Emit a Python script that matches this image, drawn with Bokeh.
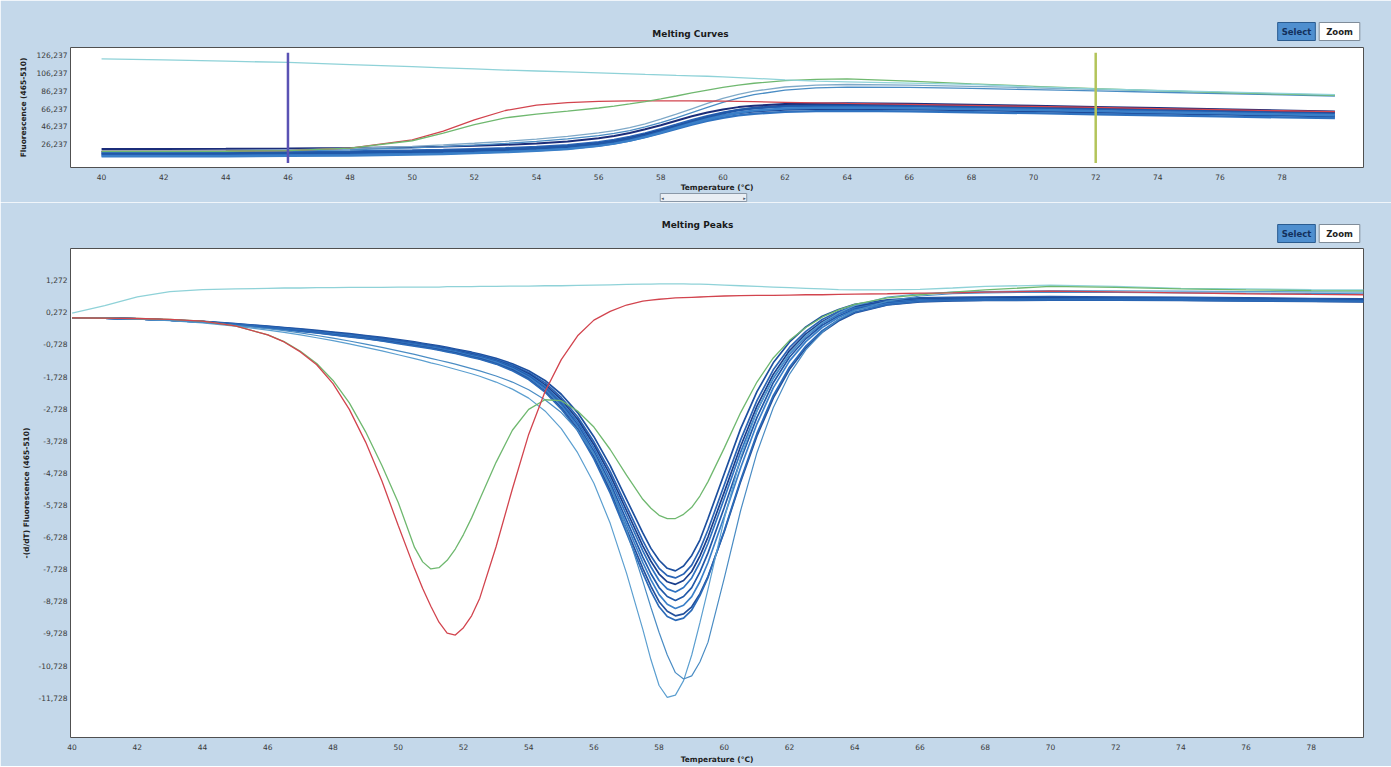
from bokeh.plotting import figure
from bokeh.models import Range1d, FixedTicker, Label
from bokeh.layouts import column
from bokeh.embed import file_html
from bokeh.resources import INLINE

BG = "#c4d8ea"
FONT = "DejaVu Sans"

# ---------------- Melting Curves (top) ----------------
TT = [40, 42, 44, 46, 48, 50, 51, 52, 53, 54, 55, 56, 56.5, 57, 57.5, 58, 58.5, 59, 59.5,
      60, 60.5, 61, 62, 63, 64, 66, 68, 70, 72, 74, 76, 78, 79.7]

top_c1 = [20.8, 20.8, 20.9, 21.3, 21.8, 22.8, 23.4, 24.4, 25.5, 27.0, 29.1, 32.7, 35.3, 38.8, 42.9, 47.4, 52.5,
          57.5, 61.7, 65.2, 67.8, 69.3, 71.4, 72.0, 72.2, 71.5, 70.5, 69.3, 68.0, 66.7, 65.3, 64.0, 63.0]
top_c2 = [17.0, 17.0, 17.1, 17.5, 18.0, 19.0, 19.6, 20.6, 21.6, 23.1, 25.1, 28.5, 31.0, 34.3, 38.3, 42.9, 48.0,
          53.2, 57.7, 61.6, 64.5, 66.4, 68.4, 69.1, 69.3, 68.6, 67.6, 66.5, 65.3, 64.0, 62.7, 61.5, 60.5]
top_c3 = [15.0, 15.0, 15.1, 15.5, 16.0, 16.9, 17.5, 18.5, 19.5, 21.0, 23.0, 26.6, 29.2, 32.7, 36.8, 41.3, 46.2,
          50.9, 55.0, 58.5, 61.2, 63.1, 65.2, 65.9, 66.1, 65.4, 64.4, 63.3, 62.1, 60.9, 59.7, 58.5, 57.6]
top_c4 = [13.5, 13.5, 13.6, 14.0, 14.5, 15.4, 16.0, 16.9, 17.9, 19.3, 21.2, 24.6, 27.0, 30.3, 34.2, 38.7, 43.5,
          48.2, 52.3, 55.8, 58.5, 60.4, 62.5, 63.3, 63.6, 63.0, 62.0, 61.0, 59.8, 58.6, 57.4, 56.3, 55.5]
top_c5 = [16.0, 16.0, 16.1, 16.5, 16.9, 17.8, 18.4, 19.3, 20.3, 21.7, 23.6, 26.8, 29.1, 32.2, 36.1, 40.7, 45.9,
          51.4, 56.4, 60.9, 64.4, 66.8, 69.5, 70.5, 70.8, 70.2, 69.2, 68.0, 66.8, 65.5, 64.2, 63.0, 62.0]
top_c6 = [12.5, 12.5, 12.6, 13.0, 13.5, 14.5, 15.1, 16.1, 17.2, 18.7, 20.8, 24.3, 26.8, 30.2, 34.4, 39.2, 44.4,
          49.6, 54.2, 58.3, 61.5, 63.8, 66.2, 67.0, 67.2, 66.6, 65.6, 64.5, 63.3, 62.0, 60.8, 59.6, 58.7]
top_oa = [18.5, 18.6, 19.0, 19.8, 21.3, 23.7, 25.3, 27.2, 29.3, 31.8, 34.9, 38.8, 41.4, 44.8, 49.1, 54.2, 59.8,
          65.9, 72.0, 77.6, 82.2, 85.8, 90.4, 92.5, 93.2, 92.5, 91.0, 89.5, 87.8, 86.0, 84.3, 82.6, 81.2]
top_ob = [17.5, 17.6, 17.9, 18.6, 19.9, 22.0, 23.4, 25.1, 27.0, 29.3, 32.2, 35.8, 38.3, 41.5, 45.6, 50.4, 55.8,
          61.7, 67.5, 73.1, 77.9, 81.8, 86.9, 89.5, 90.3, 90.0, 88.8, 87.5, 86.0, 84.5, 83.0, 81.5, 80.3]
top_red = [18.0, 18.0, 18.2, 19.0, 21.8, 31.0, 40.8, 53.5, 64.0, 70.0, 72.8, 74.2, 74.6, 74.8, 74.9, 74.9, 74.9,
           74.8, 74.7, 74.5, 74.2, 73.9, 73.2, 72.5, 71.9, 70.9, 69.8, 68.6, 67.4, 66.1, 64.9, 63.7, 62.7]
top_green = [18.0, 18.0, 18.2, 19.0, 21.8, 30.0, 38.5, 48.0, 55.8, 60.0, 63.2, 66.8, 69.0, 71.4, 74.0, 77.0, 80.3,
             83.7, 87.0, 90.0, 92.6, 94.6, 97.5, 99.0, 99.5, 97.0, 94.0, 91.2, 88.6, 86.3, 84.2, 82.4, 80.9]
top_cyan = [122.0, 120.8, 119.4, 118.0, 115.6, 113.2, 112.0, 110.7, 109.4, 108.4, 107.3, 106.3, 105.7, 105.2,
            104.6, 104.1, 103.5, 103.0, 102.5, 101.8, 101.0, 100.2, 98.4, 97.0, 96.2, 94.7, 93.3, 90.6, 88.3,
            86.5, 84.9, 83.2, 81.8]

CURSOR_T = [46, 72]
CURSOR_Y0 = [129, 129]
CURSOR_Y1 = [5, 5]
CURSOR_COLORS = ["#5a52b4", "#b3c45a"]

TOP_XTICKS = [40, 42, 44, 46, 48, 50, 52, 54, 56, 58, 60, 62, 64, 66, 68, 70, 72, 74, 76, 78]
TOP_YTICKS = [26.237, 46.237, 66.237, 86.237, 106.237, 126.237]
TOP_YLABELS = ["26,237", "46,237", "66,237", "86,237", "106,237", "126,237"]

# ---------------- Melting Peaks (bottom) ----------------
TB = [40, 41, 42, 43, 44, 45, 46, 46.5, 47, 47.5, 48, 48.5, 49, 49.5, 50, 50.5, 50.75, 51, 51.25, 51.5, 51.75,
      52, 52.25, 52.5, 53, 53.5, 54, 54.5, 55, 55.5, 56, 56.5, 57, 57.5, 57.75, 58, 58.25, 58.5, 58.75, 59,
      59.25, 59.5, 60, 60.5, 61, 61.5, 62, 62.5, 63, 63.5, 64, 65, 66, 67, 68, 70, 72, 74, 76, 78, 79.6]

pk_c1 = [0.10, 0.09, 0.07, 0.03, -0.01, -0.08, -0.16, -0.20, -0.24, -0.29, -0.34, -0.39, -0.45, -0.51, -0.58,
         -0.65, -0.69, -0.73, -0.77, -0.82, -0.87, -0.92, -0.97, -1.03, -1.16, -1.33,
         -1.55, -1.85, -2.28, -2.85, -3.60, -4.50, -5.55, -6.60, -7.08, -7.45, -7.70, -7.78, -7.63, -7.30,
         -6.82, -6.15, -4.75, -3.35, -2.20, -1.30, -0.65, -0.18, 0.15, 0.36, 0.52,
         0.66, 0.72, 0.74, 0.75, 0.76, 0.75, 0.74, 0.72, 0.70, 0.69]
pk_c2 = [0.10, 0.09, 0.07, 0.03, -0.02, -0.09, -0.17, -0.21, -0.26, -0.31, -0.36, -0.41, -0.47, -0.54, -0.61,
         -0.68, -0.72, -0.76, -0.80, -0.85, -0.90, -0.95, -1.00, -1.06, -1.20, -1.37,
         -1.60, -1.92, -2.38, -2.98, -3.76, -4.68, -5.76, -6.84, -7.32, -7.70, -7.93, -8.00, -7.88, -7.60,
         -7.12, -6.50, -5.10, -3.70, -2.48, -1.52, -0.82, -0.32, 0.05, 0.30, 0.47,
         0.63, 0.70, 0.72, 0.73, 0.74, 0.73, 0.72, 0.70, 0.68, 0.67]
pk_c3 = [0.10, 0.09, 0.07, 0.03, -0.02, -0.10, -0.18, -0.22, -0.27, -0.32, -0.37, -0.42, -0.48, -0.55, -0.62,
         -0.70, -0.74, -0.78, -0.82, -0.87, -0.92, -0.97, -1.03, -1.09, -1.23, -1.41,
         -1.64, -1.98, -2.45, -3.06, -3.85, -4.80, -5.90, -7.00, -7.48, -7.88, -8.12, -8.20, -8.08, -7.80,
         -7.32, -6.72, -5.32, -3.90, -2.65, -1.66, -0.92, -0.40, -0.02, 0.25, 0.44,
         0.61, 0.68, 0.70, 0.71, 0.72, 0.71, 0.70, 0.68, 0.66, 0.65]
pk_c4 = [0.10, 0.09, 0.07, 0.03, -0.02, -0.10, -0.18, -0.23, -0.28, -0.33, -0.38, -0.43, -0.49, -0.56, -0.63,
         -0.71, -0.75, -0.79, -0.83, -0.88, -0.93, -0.98, -1.04, -1.10, -1.24, -1.42,
         -1.68, -2.03, -2.52, -3.14, -3.95, -4.92, -6.04, -7.16, -7.66, -8.08, -8.34, -8.44, -8.30, -8.00,
         -7.52, -6.92, -5.52, -4.08, -2.80, -1.78, -1.02, -0.47, -0.07, 0.21, 0.41,
         0.59, 0.66, 0.68, 0.69, 0.70, 0.70, 0.69, 0.67, 0.65, 0.64]
pk_c5 = [0.10, 0.09, 0.07, 0.03, -0.03, -0.11, -0.19, -0.24, -0.29, -0.34, -0.39, -0.45, -0.51, -0.58, -0.65,
         -0.73, -0.77, -0.81, -0.85, -0.90, -0.95, -1.00, -1.06, -1.12, -1.26, -1.45,
         -1.72, -2.08, -2.58, -3.22, -4.05, -5.05, -6.20, -7.35, -7.87, -8.30, -8.58, -8.70, -8.58, -8.30,
         -7.82, -7.22, -5.80, -4.32, -3.00, -1.92, -1.12, -0.55, -0.13, 0.16, 0.37,
         0.56, 0.64, 0.66, 0.67, 0.68, 0.68, 0.67, 0.65, 0.63, 0.62]
pk_c6 = [0.10, 0.09, 0.07, 0.03, -0.03, -0.11, -0.20, -0.25, -0.30, -0.35, -0.40, -0.46, -0.52, -0.59, -0.66,
         -0.74, -0.78, -0.82, -0.86, -0.91, -0.96, -1.02, -1.08, -1.14, -1.28, -1.48,
         -1.75, -2.12, -2.63, -3.28, -4.13, -5.15, -6.33, -7.52, -8.06, -8.52, -8.82, -8.95, -8.85, -8.58,
         -8.12, -7.52, -6.08, -4.57, -3.20, -2.08, -1.24, -0.64, -0.20, 0.11, 0.34,
         0.54, 0.62, 0.64, 0.65, 0.66, 0.66, 0.65, 0.64, 0.62, 0.61]
pk_c7 = [0.10, 0.09, 0.07, 0.03, -0.03, -0.12, -0.21, -0.26, -0.31, -0.36, -0.42, -0.48, -0.54, -0.61, -0.68,
         -0.76, -0.80, -0.84, -0.89, -0.94, -0.99, -1.05, -1.11, -1.17, -1.32, -1.52,
         -1.80, -2.18, -2.70, -3.36, -4.22, -5.27, -6.48, -7.70, -8.26, -8.74, -9.04, -9.18, -9.12, -8.90,
         -8.50, -7.95, -6.55, -5.00, -3.58, -2.40, -1.50, -0.84, -0.35, 0.00, 0.25,
         0.50, 0.60, 0.63, 0.64, 0.65, 0.65, 0.64, 0.63, 0.61, 0.60]
pk_c8 = [0.10, 0.09, 0.07, 0.03, -0.03, -0.12, -0.21, -0.26, -0.32, -0.37, -0.43, -0.49, -0.55, -0.62, -0.70,
         -0.78, -0.82, -0.86, -0.91, -0.96, -1.01, -1.07, -1.13, -1.19, -1.34, -1.55,
         -1.82, -2.21, -2.74, -3.41, -4.29, -5.36, -6.60, -7.85, -8.42, -8.90, -9.20, -9.32, -9.25, -9.00,
         -8.55, -7.98, -6.52, -4.95, -3.50, -2.32, -1.43, -0.78, -0.30, 0.04, 0.28,
         0.51, 0.61, 0.64, 0.65, 0.66, 0.66, 0.65, 0.63, 0.62, 0.61]
pk_oa = [0.10, 0.09, 0.06, 0.01, -0.06, -0.16, -0.28, -0.35, -0.43, -0.52, -0.61, -0.71, -0.82, -0.93, -1.05,
         -1.17, -1.23, -1.30, -1.36, -1.43, -1.50, -1.57, -1.64, -1.72, -1.90, -2.12,
         -2.40, -2.80, -3.35, -4.10, -5.05, -6.30, -7.85, -9.60, -10.55, -11.35, -11.72, -11.65, -11.20, -10.40,
         -9.40, -8.35, -6.15, -4.25, -2.80, -1.75, -1.00, -0.45, -0.05, 0.25, 0.48,
         0.75, 0.85, 0.90, 0.92, 0.95, 0.94, 0.93, 0.92, 0.91, 0.90]
pk_ob = [0.10, 0.09, 0.06, 0.02, -0.04, -0.13, -0.24, -0.30, -0.37, -0.45, -0.53, -0.62, -0.72, -0.82, -0.93,
         -1.04, -1.10, -1.16, -1.22, -1.28, -1.34, -1.41, -1.48, -1.55, -1.71, -1.90,
         -2.14, -2.45, -2.85, -3.40, -4.15, -5.15, -6.50, -8.10, -8.92, -9.70, -10.40, -10.95, -11.15, -11.05,
         -10.62, -10.00, -8.00, -5.90, -4.10, -2.70, -1.65, -0.90, -0.35, 0.05, 0.32,
         0.62, 0.78, 0.85, 0.88, 0.90, 0.89, 0.88, 0.87, 0.86, 0.85]
pk_red = [0.10, 0.09, 0.08, 0.05, 0.00, -0.15, -0.43, -0.65, -0.96, -1.36, -1.95, -2.75, -3.77, -4.98, -6.37,
          -7.71, -8.33, -8.88, -9.38, -9.72, -9.78, -9.55, -9.18, -8.63, -7.03, -5.23,
          -3.53, -2.20, -1.20, -0.46, 0.03, 0.30, 0.50, 0.62, 0.65, 0.68, 0.70, 0.72, 0.73, 0.74,
          0.75, 0.76, 0.78, 0.79, 0.80, 0.80, 0.81, 0.82, 0.82, 0.83, 0.84,
          0.85, 0.87, 0.88, 0.90, 0.93, 0.91, 0.88, 0.85, 0.83, 0.82]
pk_green = [0.10, 0.09, 0.08, 0.05, 0.00, -0.15, -0.43, -0.64, -0.94, -1.32, -1.85, -2.55, -3.45, -4.50, -5.65,
            -7.05, -7.50, -7.72, -7.68, -7.45, -7.10, -6.65, -6.13, -5.55, -4.40, -3.40,
            -2.75, -2.45, -2.48, -2.80, -3.30, -4.00, -4.80, -5.55, -5.83, -6.05, -6.15, -6.15, -6.02, -5.80,
            -5.45, -5.00, -3.95, -2.85, -1.90, -1.15, -0.60, -0.20, 0.12, 0.35, 0.52,
            0.72, 0.82, 0.90, 0.97, 1.08, 1.05, 1.00, 0.97, 0.95, 0.94]
pk_cyan = [0.25, 0.48, 0.75, 0.92, 0.98, 1.00, 1.02, 1.03, 1.03, 1.04, 1.04, 1.05, 1.05, 1.05, 1.06,
           1.06, 1.06, 1.06, 1.06, 1.07, 1.07, 1.07, 1.07, 1.08, 1.08, 1.09,
           1.09, 1.10, 1.10, 1.11, 1.12, 1.13, 1.14, 1.15, 1.15, 1.16, 1.16, 1.16, 1.16, 1.15,
           1.15, 1.14, 1.12, 1.10, 1.08, 1.06, 1.04, 1.02, 1.00, 0.98, 0.97,
           0.97, 0.99, 1.03, 1.08, 1.12, 1.08, 1.02, 1.00, 0.98, 0.97]

BOT_XTICKS = [40, 42, 44, 46, 48, 50, 52, 54, 56, 58, 60, 62, 64, 66, 68, 70, 72, 74, 76, 78]
BOT_YTICKS = [1.272, 0.272, -0.728, -1.728, -2.728, -3.728, -4.728, -5.728, -6.728, -7.728, -8.728,
              -9.728, -10.728, -11.728]
BOT_YLABELS = ["1,272", "0,272", "-0,728", "-1,728", "-2,728", "-3,728", "-4,728", "-5,728", "-6,728",
               "-7,728", "-8,728", "-9,728", "-10,728", "-11,728"]

CLUSTER_COLORS = ["#1d4f9e", "#2a64b5", "#1a3f8c", "#2f72c0", "#2058a8", "#3a7fc8", "#23509c", "#2b6ab8"]
OUTLIER_COLORS = ["#5c9fd0", "#4a8cc4"]
RED = "#d2444e"
GREEN = "#6fb86f"
CYAN = "#8fd2d8"


def style(p, xticks, yticks, ylabels, ytitle, xlabel_standoff):
    p.background_fill_color = "white"
    p.border_fill_color = BG
    p.outline_line_color = "#505050"
    p.outline_line_width = 1
    p.xgrid.visible = False
    p.ygrid.visible = False
    for ax in (p.xaxis[0], p.yaxis[0]):
        ax.axis_line_color = None
        ax.major_tick_out = 0
        ax.major_tick_in = 0
        ax.minor_tick_out = 0
        ax.minor_tick_in = 0
        ax.major_tick_line_color = None
        ax.minor_tick_line_color = None
        ax.major_label_text_font = FONT
        ax.major_label_text_font_size = "7.5px"
        ax.major_label_text_color = "#3a3a3a"
        ax.axis_label_text_font = FONT
        ax.axis_label_text_font_size = "7.5px"
        ax.axis_label_text_font_style = "bold"
        ax.axis_label_text_color = "#222222"
    p.xaxis.ticker = FixedTicker(ticks=xticks)
    p.xaxis.major_label_standoff = 6
    p.xaxis.axis_label = "Temperature (°C)"
    p.xaxis.axis_label_standoff = xlabel_standoff
    p.yaxis.ticker = FixedTicker(ticks=yticks)
    p.yaxis.major_label_overrides = dict(zip(yticks, ylabels))
    p.yaxis.major_label_standoff = 3
    p.yaxis.axis_label = ytitle
    p.yaxis.axis_label_standoff = 5


def lab(p, side, x, y, text, size="8px", bold=False, color="#1a1a1a", bg=None, border=None, pad=0):
    # canvas units: pixel position inside the figure's own canvas; side panel keeps it unclipped
    p.add_layout(Label(x=x, y=y, x_units="canvas", y_units="canvas", text=text,
                       text_font=FONT, text_font_size=size,
                       text_font_style="bold" if bold else "normal",
                       text_color=color, text_align="center", text_baseline="middle",
                       background_fill_color=bg, border_line_color=border, padding=pad), side)


def buttons(p, y):
    lab(p, "above", 1296, y, "Select", size="8.5px", bold=True, color="#13305c", bg="#4f8fcf",
        border="#2b5c90", pad=4)
    lab(p, "above", 1339, y, "\u00a0Zoom\u00a0", size="8.5px", bold=True, color="#222222", bg="white",
        border="#7f8c99", pad=4)


# ---- top figure (canvas y 0..202) ----
top = figure(width=1391, height=202, output_backend="svg", toolbar_location=None,
             x_range=Range1d(39.0, 80.62), y_range=Range1d(-0.06, 134.8),
             min_border_left=70, min_border_right=28, min_border_top=47, min_border_bottom=35)
style(top, TOP_XTICKS, TOP_YTICKS, TOP_YLABELS, "Fluorescence (465-510)", 0)

for vals, col in zip([top_c2, top_c3, top_c4, top_c5, top_c6], CLUSTER_COLORS[1:6]):
    top.line(TT, vals, line_color=col, line_width=2.4)
top.line(TT, top_c1, line_color="#1b2d7a", line_width=2.0)
top.line(TT, top_ob, line_color=OUTLIER_COLORS[1], line_width=1.3)
top.line(TT, top_oa, line_color="#7fa9c8", line_width=1.3)
top.line(TT, top_red, line_color=RED, line_width=1.3)
top.line(TT, top_green, line_color=GREEN, line_width=1.3)
top.line(TT, top_cyan, line_color=CYAN, line_width=1.3)
top.segment(x0=CURSOR_T, y0=CURSOR_Y0, x1=CURSOR_T, y1=CURSOR_Y1, line_color=CURSOR_COLORS, line_width=2.5)

lab(top, "above", 690, 33, "Melting Curves", size="9px", bold=True)
buttons(top, 31)
lab(top, "below", 703, 197, "◂" + "\u00a0" * 50 + "▸", size="5px", color="#445566", bg="#e9eef4",
    border="#8a98a8", pad=1)

# ---- bottom figure (canvas y 0..564, page y = 202 + canvas y) ----
bot = figure(width=1391, height=564, output_backend="svg", toolbar_location=None,
             x_range=Range1d(39.95, 79.6), y_range=Range1d(-12.97, 2.26),
             min_border_left=70, min_border_right=28, min_border_top=46, min_border_bottom=26)
style(bot, BOT_XTICKS, BOT_YTICKS, BOT_YLABELS, "-(d/dT) Fluorescence (465-510)", 2)

bot.line(TB, pk_cyan, line_color=CYAN, line_width=1.3)
for vals, col in zip([pk_c1, pk_c2, pk_c3, pk_c4, pk_c5, pk_c6, pk_c7, pk_c8], CLUSTER_COLORS):
    bot.line(TB, vals, line_color=col, line_width=1.7)
bot.line(TB, pk_oa, line_color=OUTLIER_COLORS[0], line_width=1.2)
bot.line(TB, pk_ob, line_color=OUTLIER_COLORS[1], line_width=1.2)
bot.line(TB, pk_green, line_color=GREEN, line_width=1.3)
bot.line(TB, pk_red, line_color=RED, line_width=1.3)

lab(bot, "above", 697, 22, "Melting Peaks", size="9px", bold=True)
buttons(bot, 31)

layout = column(top, bot, spacing=0)
open("out.html", "w").write(file_html(layout, INLINE))
